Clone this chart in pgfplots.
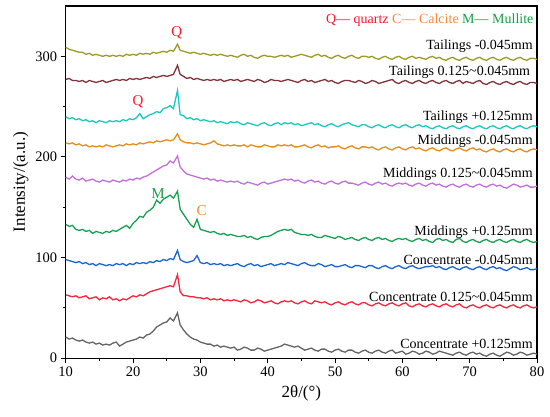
\documentclass[border=0pt]{standalone}
\usepackage{fontspec}
\setmainfont{Liberation Serif}
\usepackage{pgfplots}
\usepackage{pgfplotstable}
\pgfplotsset{compat=1.18}
\definecolor{cgray}{RGB}{100,100,100}
\definecolor{cred}{RGB}{250,35,60}
\definecolor{cblue}{RGB}{25,100,210}
\definecolor{cgreen}{RGB}{20,160,80}
\definecolor{cpurple}{RGB}{195,110,220}
\definecolor{corange}{RGB}{230,140,25}
\definecolor{ccyan}{RGB}{25,200,190}
\definecolor{cdred}{RGB}{130,50,60}
\definecolor{colive}{RGB}{155,155,35}
\definecolor{tQ}{RGB}{255,20,40}
\definecolor{tC}{RGB}{255,135,55}
\definecolor{tM}{RGB}{20,160,70}
\pgfplotstableread{
x g r b gr p o c dr ol
10 21 63 98 133 180 214 240 277 309
10.5 19 62 97 131 178 213 238 278 307
11 20 61 96 132 181 214 239 276 306
11.5 18 62 95 128 178 212 237 276 305
12 17 60 96 127 177 213 238 275 304
12.5 18 61 94 128 179 211 236 276 304
13 16 62 95 126 176 212 237 274 302
13.5 15 59 93 127 177 210 235 276 303
14 16 60 94 124 178 211 236 275 301
14.5 14 61 92 126 176 210 234 274 302
15 15 58 94 125 175 211 236 275 301
15.5 13 60 93 124 177 210 235 276 300
16 14 59 92 126 176 212 234 274 301
16.5 13 61 93 125 175 211 236 275 300
17 15 58 92 127 177 210 235 276 301
17.5 16 59 94 126 176 211 236 277 300
18 12 57 93 128 175 212 235 276 301
18.5 14 59 94 130 177 211 237 277 300
19 16 58 92 132 176 213 236 276 302
19.5 17 60 94 129 178 212 238 278 301
20 18 62 93 134 177 213 237 277 302
20.5 19 61 95 137 179 212 239 278 301
21 21 63 94 141 178 214 243 277 303
21.5 20 62 95 140 180 213 238 278 302
22 23 64 94 145 181 214 240 279 303
22.5 24 66 96 147 183 215 242 278 302
23 27 67 95 150 185 214 243 280 304
23.5 31 68 97 157 187 216 245 279 303
24 33 69 96 154 189 215 244 280 304
24.5 35 70 98 158 191 216 248 281 305
25 36 71 97 160 192 217 249 280 304
25.5 40 72 99 162 196 216 251 281 306
26 37 71 98 159 194 217 248 282 305
26.6 45 83 107 166 201 223 266 291 312
27 33 66 98 148 190 217 242 282 306
27.5 28 62 96 143 186 215 241 280 305
28 24 62 95 138 183 214 238 278 304
28.5 21 61 96 133 182 214 239 279 303
29 19 61 97 130 181 213 237 277 304
29.5 18 60 102 138 180 214 238 278 303
30 16 60 95 128 179 213 236 277 302
30.5 15 59 94 127 178 212 237 276 303
31 14 60 95 126 179 213 236 277 302
31.5 14 58 93 125 177 214 235 276 301
32 12 59 94 126 178 216 236 277 302
32.5 13 58 93 124 176 213 234 276 301
33 11 59 94 123 177 212 235 277 302
33.5 12 57 92 124 176 211 234 275 301
34 11 58 93 122 175 212 233 276 300
34.5 10 57 92 123 176 211 235 277 301
35 11 58 93 122 175 212 234 276 300
35.5 8 57 94 121 176 211 235 277 299
36 9 56 92 121 174 211 233 275 301
36.5 11 58 91 122 173 212 232 276 302
37 10 57 93 120 175 210 234 277 300
37.5 8 55 94 121 174 212 233 276 301
38 8 56 92 119 173 211 232 275 299
38.5 10 58 93 118 172 210 231 277 298
39 9 57 91 120 174 210 233 276 300
39.5 7 55 92 121 175 212 234 274 301
40 8 56 93 121 173 211 232 275 300
40.5 9 57 94 122 174 210 231 277 300
41 10 55 92 124 175 210 233 276 299
41.5 11 54 93 126 176 212 234 276 300
42 12 56 94 127 177 211 232 275 301
42.5 14 57 93 128 178 212 234 276 300
43 13 56 95 127 177 211 233 277 301
43.5 12 57 94 128 178 212 234 276 299
44 11 55 93 125 176 210 232 275 300
44.5 12 54 92 124 177 210 233 274 301
45 10 56 94 123 175 211 231 276 302
45.5 8 57 95 123 174 212 232 277 301
46 9 55 93 122 176 210 233 275 300
46.5 10 54 92 123 177 209 234 276 299
47 8 57 92 121 175 211 232 274 301
47.5 7 56 94 120 176 212 233 275 302
48 9 55 93 120 174 210 231 276 300
48.5 9 56 91 122 173 211 230 277 301
49 7 54 92 121 175 209 232 275 299
49.5 6 53 93 120 176 210 233 276 298
50 8 55 91 119 174 210 231 274 300
50.5 9 56 91 121 173 211 230 273 301
51 7 54 92 120 175 209 232 275 299
51.5 6 53 93 118 176 208 233 276 298
52 8 55 91 119 174 210 234 276 300
52.5 8 56 90 120 174 211 232 275 301
53 6 54 92 118 173 209 231 274 299
53.5 5 53 92 117 172 208 230 276 298
54 7 55 91 119 174 210 232 275 300
54.5 8 55 90 120 175 210 232 273 300
55 6 53 92 118 173 209 230 274 299
55.5 5 52 92 117 172 210 229 276 300
56 7 54 90 119 174 208 231 275 298
56.5 8 55 89 120 175 207 232 273 297
57 6 53 91 118 173 209 230 274 299
57.5 5 52 92 119 174 210 229 275 300
58 7 54 90 117 172 208 231 276 298
58.5 8 55 89 116 171 207 232 277 297
59 5 53 91 118 173 209 230 274 299
59.5 6 52 92 119 174 210 229 273 300
60 7 54 90 118 173 208 231 275 298
60.5 4 55 89 119 174 207 232 276 297
61 5 52 91 117 172 209 230 274 299
61.5 7 51 92 116 171 210 229 273 300
62 6 53 90 118 173 208 231 275 298
62.5 4 54 89 119 174 209 232 276 299
63 5 52 90 117 172 207 230 274 298
63.5 7 51 91 118 171 206 231 273 297
64 6 53 91 116 173 208 229 275 299
64.5 4 54 92 115 174 209 228 276 300
65 5 52 90 118 172 207 230 274 298
65.5 7 51 91 119 173 206 231 273 299
66 6 53 89 117 171 208 229 275 297
66.5 5 54 88 118 170 209 228 276 296
67 4 52 90 116 172 207 230 274 298
67.5 3 51 91 115 173 206 231 273 299
68 5 53 89 118 171 208 229 275 297
68.5 6 54 88 119 170 209 228 276 296
69 4 51 90 116 172 207 230 273 298
69.5 3 50 91 115 173 206 231 275 299
70 5 52 89 117 171 208 229 274 297
70.5 6 53 88 118 170 209 228 273 296
71 4 51 90 116 172 207 230 275 298
71.5 5 50 91 115 173 208 231 276 299
72 3 52 89 117 171 206 229 273 297
72.5 2 53 88 118 170 205 228 272 296
73 4 51 90 116 172 207 230 274 298
73.5 5 50 91 115 173 208 231 275 299
74 3 52 89 117 171 206 229 273 297
74.5 2 53 90 118 172 205 228 272 296
75 4 51 88 116 170 207 230 274 298
75.5 6 50 87 115 169 208 231 275 299
76 5 52 89 117 171 206 229 273 297
76.5 3 53 91 118 173 205 228 272 296
77 4 51 90 116 172 207 230 274 298
77.5 6 50 88 115 170 208 231 275 299
78 5 52 89 117 171 206 229 273 297
78.5 3 53 90 118 172 205 228 272 296
79 4 51 88 116 170 207 230 274 298
79.5 5 50 88 115 170 208 231 274 298
80 4 51 89 116 171 207 230 273 297
}\xrd
\begin{document}
\begin{tikzpicture}
\begin{axis}[
  scale only axis,
  width=471pt, height=352pt,
  xmin=10, xmax=80, ymin=0, ymax=350,
  xtick={10,20,...,80}, ytick={0,100,200,300},
  minor x tick num=1, minor y tick num=1,
  tick align=outside, xtick pos=bottom, ytick pos=left,
  major tick length=5pt, minor tick length=3pt,
  axis line style={line width=1.2pt},
  every tick/.style={black, line width=1pt},
  /pgf/number format/assume math mode=true,
  tick label style={font=\fontsize{14.5}{17}\selectfont},
  label style={font=\fontsize{17}{20}\selectfont},
  xlabel={2θ/(°)}, ylabel={Intensity/(a.u.)},
  xlabel style={yshift=-2pt},
  every axis plot/.append style={line width=1.3pt, mark=none},
  clip=false,
]
\addplot[cgray] table[x=x,y=g]{\xrd};
\addplot[cred] table[x=x,y=r]{\xrd};
\addplot[cblue] table[x=x,y=b]{\xrd};
\addplot[cgreen] table[x=x,y=gr]{\xrd};
\addplot[cpurple] table[x=x,y=p]{\xrd};
\addplot[corange] table[x=x,y=o]{\xrd};
\addplot[ccyan] table[x=x,y=c]{\xrd};
\addplot[cdred] table[x=x,y=dr]{\xrd};
\addplot[colive] table[x=x,y=ol]{\xrd};
\begin{scope}[every node/.style={font=\fontsize{14}{16}\selectfont, anchor=east, inner sep=0pt}]
\node at (axis cs:79.4,310) {Tailings -0.045mm};
\node at (axis cs:79.0,284) {Tailings 0.125\textasciitilde0.045mm};
\node at (axis cs:79.4,239.5) {Tailings +0.125mm};
\node at (axis cs:79.4,216) {Middings -0.045mm};
\node at (axis cs:79.4,183) {Middings 0.125\textasciitilde0.045mm};
\node at (axis cs:79.4,125) {Middings +0.125mm};
\node at (axis cs:79.4,97.5) {Concentrate -0.045mm};
\node at (axis cs:79.4,61) {Concentrate 0.125\textasciitilde0.045mm};
\node at (axis cs:79.4,14) {Concentrate +0.125mm};
\node at (axis cs:79.5,336) {\textcolor{tQ}{Q— quartz} \textcolor{tC}{C— Calcite} \textcolor{tM}{M— Mullite}};
\end{scope}
\begin{scope}[every node/.style={font=\fontsize{15}{18}\selectfont, inner sep=0pt}]
\node[tQ] at (axis cs:26.5,323) {Q};
\node[tQ] at (axis cs:20.75,255) {Q};
\node[tM] at (axis cs:23.7,164) {M};
\node[tC] at (axis cs:30.2,147) {C};
\end{scope}
\end{axis}
\pgfresetboundingbox
\path ([shift={(-65.7pt,-58pt)}]current axis.south west) rectangle ([shift={(13pt,6pt)}]current axis.north east);
\end{tikzpicture}
\end{document}
